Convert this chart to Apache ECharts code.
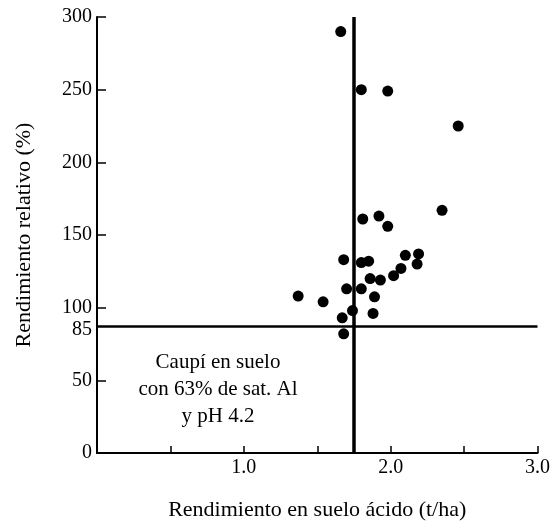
<!DOCTYPE html>
<html>
<head>
<meta charset="utf-8">
<script src="https://cdn.jsdelivr.net/npm/echarts@6/dist/echarts.min.js"></script>
<style>
html,body{margin:0;padding:0;background:#fff;}
#c{width:553px;height:529px;}
</style>
</head>
<body>
<div id="c"></div>
<script>
// Data
const xValues = [1.66, 1.80, 1.98, 2.46, 2.35, 1.81, 1.92, 1.98, 1.68, 1.80, 1.85, 2.10, 2.19, 2.18, 2.07, 2.02, 1.86, 1.93, 1.70, 1.80, 1.37, 1.54, 1.89, 1.74, 1.88, 1.67, 1.68];
const yValues = [290, 250, 249, 225, 167, 161, 163, 156, 133, 131, 132, 136, 137, 130, 127, 122, 120, 119, 113, 113, 108, 104, 107.5, 98, 96, 93, 82];
const yTickValues = [0, 50, 100, 150, 200, 250, 300];
const yLabelValues = [0, 50, 85, 100, 150, 200, 250, 300];
const xLabelValues = [1, 2, 3];
const refX = 1.75;
const refY = 87.5;
const xTitle = 'Rendimiento en suelo ácido (t/ha)';
const yTitle = 'Rendimiento relativo (%)';
const noteLines = ['Caupí en suelo', 'con 63% de sat. Al', 'y pH 4.2'];

const points = xValues.map((x, i) => [x, yValues[i]]);
const FONT = '"Liberation Serif", "DejaVu Serif", serif';

const chart = echarts.init(document.getElementById('c'), null, {renderer: 'canvas'});
chart.setOption({
  animation: false,
  backgroundColor: '#fff',
  grid: {left: 97, right: 11, top: 17, bottom: 76, containLabel: false},
  xAxis: {
    type: 'value', min: 0, max: 3, interval: 0.5,
    name: xTitle, nameLocation: 'middle', nameGap: 46,
    nameTextStyle: {fontFamily: FONT, fontSize: 22, color: '#000'},
    axisLine: {lineStyle: {color: '#000', width: 2}},
    axisTick: {inside: true, length: 7, lineStyle: {color: '#000', width: 1.5}},
    axisLabel: {
      fontFamily: FONT, fontSize: 20, color: '#000', margin: 5,
      formatter: v => xLabelValues.includes(v) ? v.toFixed(1) : ''
    },
    splitLine: {show: false}
  },
  yAxis: {
    type: 'value', min: 0, max: 300, interval: 50,
    name: yTitle, nameLocation: 'middle', nameGap: 62,
    nameTextStyle: {fontFamily: FONT, fontSize: 22, color: '#000'},
    axisLine: {lineStyle: {color: '#000', width: 2}},
    axisTick: {inside: true, length: 9, lineStyle: {color: '#000', width: 1.5}, customValues: yTickValues},
    axisLabel: {fontFamily: FONT, fontSize: 20, color: '#000', margin: 5, customValues: yLabelValues},
    splitLine: {show: false}
  },
  series: [{
    type: 'scatter',
    data: points,
    symbol: 'circle',
    symbolSize: 11,
    itemStyle: {color: '#000', opacity: 1},
    markLine: {
      silent: true,
      symbol: 'none',
      label: {show: false},
      data: [
        [{coord: [refX, 0], lineStyle: {color: '#000', width: 3.5, type: 'solid'}}, {coord: [refX, 300]}],
        [{coord: [0, refY], lineStyle: {color: '#000', width: 2.5, type: 'solid'}}, {coord: [3, refY]}]
      ],
      lineStyle: {color: '#000', type: 'solid', opacity: 1}
    }
  }],
  graphic: [{
    type: 'text',
    x: 218, y: 349,
    style: {
      text: noteLines.join('\n'),
      align: 'center',
      fontFamily: FONT, fontSize: 21, lineHeight: 27, fill: '#000'
    }
  }]
});
</script>
</body>
</html>
